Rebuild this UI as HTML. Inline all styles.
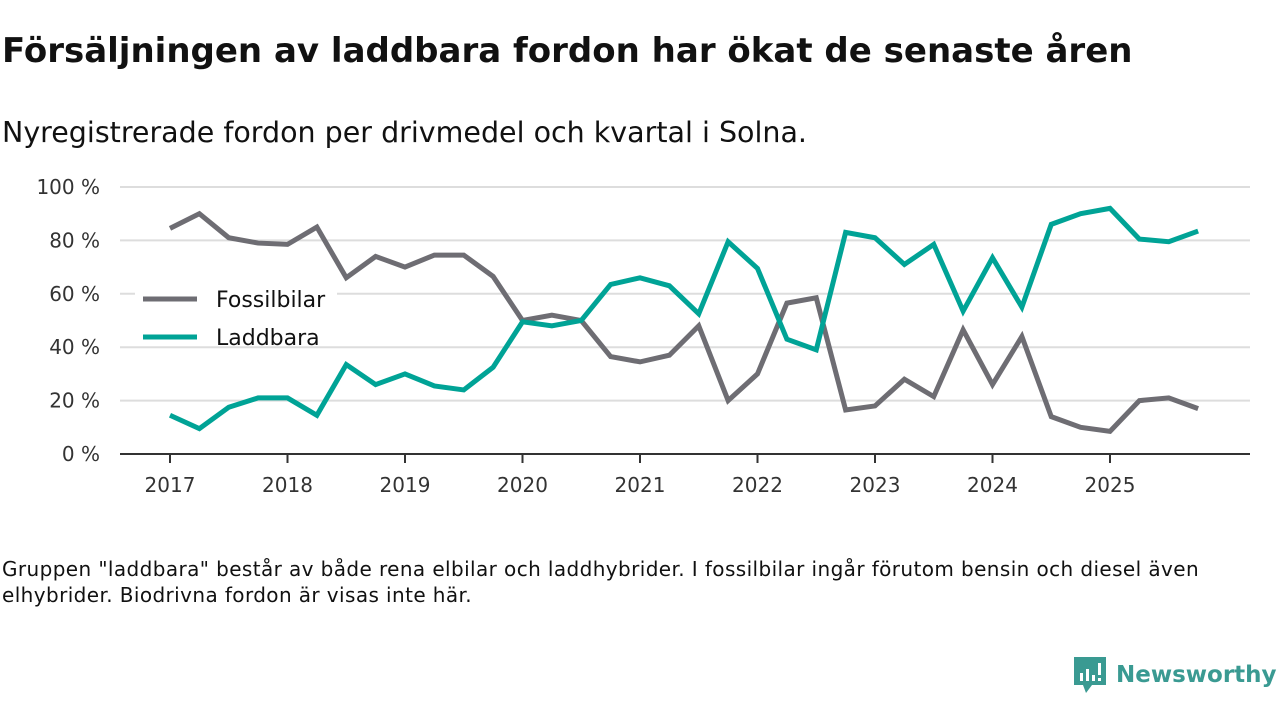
<!DOCTYPE html>
<html><head><meta charset="utf-8"><style>
body{margin:0;width:1280px;height:720px;background:#fff;font-family:"DejaVu Sans","Liberation Sans",sans-serif;overflow:hidden;position:relative}
#title{position:absolute;left:2px;top:31px;font-size:34px;font-weight:bold;color:#111;margin:0;white-space:nowrap}
#sub{position:absolute;left:2px;top:116px;font-size:28.5px;color:#111;white-space:nowrap}
#note{position:absolute;left:2px;top:556px;font-size:20px;letter-spacing:0.4px;color:#111;line-height:26px;width:1215px}
#logo{position:absolute;left:1072px;top:655px;display:flex;align-items:center}
</style></head><body>
<h1 id="title">Försäljningen av laddbara fordon har ökat de senaste åren</h1>
<div id="sub">Nyregistrerade fordon per drivmedel och kvartal i Solna.</div>
<svg id="chart" width="1280" height="720" style="position:absolute;left:0;top:0"></svg>
<div id="note">Gruppen "laddbara" består av både rena elbilar och laddhybrider. I fossilbilar ingår förutom bensin och diesel även elhybrider. Biodrivna fordon är visas inte här.</div>
<div id="logo">
<svg width="36" height="40" viewBox="0 0 36 40"><path d="M2 2h32v28H20l-6 8-3-8H2z" fill="#3a9a92"/><rect x="8" y="18" width="3" height="8" fill="#fff"/><rect x="14" y="14" width="3" height="12" fill="#fff"/><rect x="20" y="20" width="3" height="6" fill="#fff"/><rect x="26" y="8" width="3" height="12" fill="#fff"/><rect x="26" y="23" width="3" height="3" fill="#fff"/></svg>
<span style="font-size:23px;font-weight:bold;color:#3a9a92;margin-left:8px">Newsworthy</span></div>
<script>
const years=["2017","2018","2019","2020","2021","2022","2023","2024","2025"];
const yTicks=[0,20,40,60,80,100];
const fossil=[84.5,90,81,79,78.5,85,66,74,70,74.5,74.5,66.5,50,52,50,36.5,34.5,37,48,20,30,56.5,58.5,16.5,18,28,21.5,46.5,26,44,14,10,8.5,20,21,17];
const laddbara=[14.5,9.5,17.5,21,21,14.5,33.5,26,30,25.5,24,32.5,49.5,48,50,63.5,66,63,52.5,79.5,69.5,43,39,83,81,71,78.5,53.5,73.5,55,86,90,92,80.5,79.5,83.5];
const svg=document.getElementById('chart');const NS='http://www.w3.org/2000/svg';
const X=i=>170+i*117.5/4;const Y=v=>454-v*2.67;
function el(t,a){const e=document.createElementNS(NS,t);for(const k in a)e.setAttribute(k,a[k]);svg.appendChild(e);return e;}
yTicks.forEach(v=>{if(v>0){const g=el('line',{x1:120,x2:1250,y1:Y(v),y2:Y(v),stroke:'#ddd','stroke-width':2});

}
const t=el('text',{x:100,y:Y(v)+7,'text-anchor':'end','font-size':20,fill:'#333'});t.textContent=v+' %';

});
const ax=el('line',{x1:120,x2:1250,y1:454,y2:454,stroke:'#333','stroke-width':2});


years.forEach((y,i)=>{const x=X(i*4);el('line',{x1:x,x2:x,y1:454,y2:463,stroke:'#333','stroke-width':2});
const t=el('text',{x:x,y:492,'text-anchor':'middle','font-size':20,fill:'#333'});t.textContent=y;

});
function line(d,c,n){const p=el('polyline',{points:d.map((v,i)=>X(i)+','+Y(v)).join(' '),fill:'none',stroke:c,'stroke-width':5,'stroke-linejoin':'miter'});

}
line(fossil,'#6e6d73','fossilbilar-line');
line(laddbara,'#00a396','laddbara-line');
el('rect',{x:135,y:282,width:202,height:60,fill:'#fff'});
[['Fossilbilar','#6e6d73',299],['Laddbara','#00a396',337]].forEach(([n,c,y])=>{
const l=el('line',{x1:143,x2:197,y1:y,y2:y,stroke:c,'stroke-width':5});


const t=el('text',{x:216,y:y+8,'font-size':22,fill:'#111'});t.textContent=n;

});
</script>
</body></html>
